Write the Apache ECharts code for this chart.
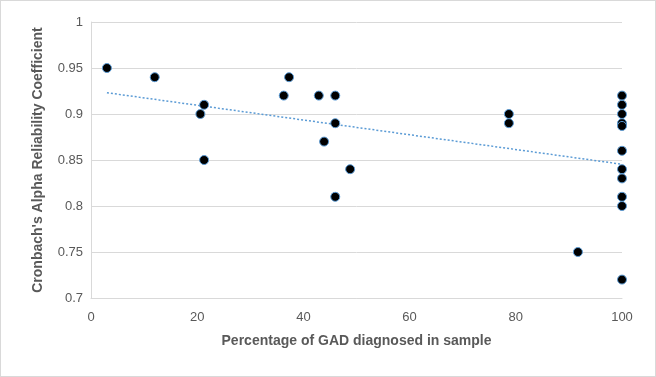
<!DOCTYPE html>
<html>
<head>
<meta charset="utf-8">
<script src="https://cdn.jsdelivr.net/npm/echarts@6/dist/echarts.min.js"></script>
<style>
  html, body { margin: 0; padding: 0; background: #fff; }
  #chart { width: 654px; height: 375px; border: 1px solid #d9d9d9; }
</style>
</head>
<body>
<div id="chart"></div>
<script>
// percentage of GAD diagnosed in sample
const gadPct = [3, 12, 21.3, 20.6, 21.3, 36.3, 37.3, 42.9, 46, 46, 43.9, 48.8, 46,
  78.7, 78.7, 91.7,
  100, 100, 100, 100, 100, 100, 100, 100, 100, 100, 100];
// Cronbach's alpha
const alpha = [0.95, 0.94, 0.91, 0.90, 0.85, 0.92, 0.94, 0.92, 0.92, 0.89, 0.87, 0.84, 0.81,
  0.90, 0.89, 0.75,
  0.92, 0.91, 0.90, 0.89, 0.887, 0.86, 0.84, 0.83, 0.81, 0.80, 0.72];

const points = gadPct.map((x, i) => [x, alpha[i]]);

// linear trendline (least squares), drawn from min x to max x
function linearFit(xs, ys) {
  const n = xs.length;
  const mx = xs.reduce((a, b) => a + b, 0) / n;
  const my = ys.reduce((a, b) => a + b, 0) / n;
  let sxy = 0, sxx = 0;
  for (let i = 0; i < n; i++) {
    sxy += (xs[i] - mx) * (ys[i] - my);
    sxx += (xs[i] - mx) * (xs[i] - mx);
  }
  const slope = sxy / sxx;
  return { slope, intercept: my - slope * mx };
}
const fit = linearFit(gadPct, alpha);
const xMin = Math.min(...gadPct), xMax = Math.max(...gadPct);
const trend = [xMin, xMax].map(x => [x, fit.intercept + fit.slope * x]);

const chart = echarts.init(document.getElementById('chart'));
const font = 'Liberation Sans';
chart.setOption({
  animation: false,
  grid: { left: 90, right: 33, top: 21, bottom: 78 },
  xAxis: {
    type: 'value', min: 0, max: 100, interval: 20,
    name: 'Percentage of GAD diagnosed in sample',
    nameLocation: 'middle', nameGap: 36,
    nameTextStyle: { color: '#595959', fontSize: 14, fontWeight: 'bold', fontFamily: font },
    axisLine: { show: true, lineStyle: { color: '#d9d9d9' } },
    axisTick: { show: false },
    axisLabel: { color: '#595959', fontSize: 13, fontFamily: font, margin: 13 },
    splitLine: { show: false }
  },
  yAxis: {
    type: 'value', min: 0.7, max: 1, interval: 0.05,
    name: "Cronbach's Alpha Reliability Coefficient",
    nameLocation: 'middle', nameGap: 46,
    nameTextStyle: { color: '#595959', fontSize: 14, fontWeight: 'bold', fontFamily: font },
    axisLine: { show: true, lineStyle: { color: '#d9d9d9' } },
    axisTick: { show: false },
    axisLabel: { color: '#595959', fontSize: 13, fontFamily: font, margin: 8,
      formatter: v => String(parseFloat(v.toFixed(2))) },
    splitLine: { lineStyle: { color: '#d9d9d9' } }
  },
  series: [
    {
      type: 'line', data: trend, symbol: 'none', silent: true,
      lineStyle: { color: '#5b9bd5', width: 1.5, type: [2, 2] },
      z: 1
    },
    {
      type: 'scatter', data: points, symbolSize: 9,
      itemStyle: { color: '#000', borderColor: '#5b9bd5', borderWidth: 1, opacity: 1 },
      z: 2
    }
  ]
});
</script>
</body>
</html>
